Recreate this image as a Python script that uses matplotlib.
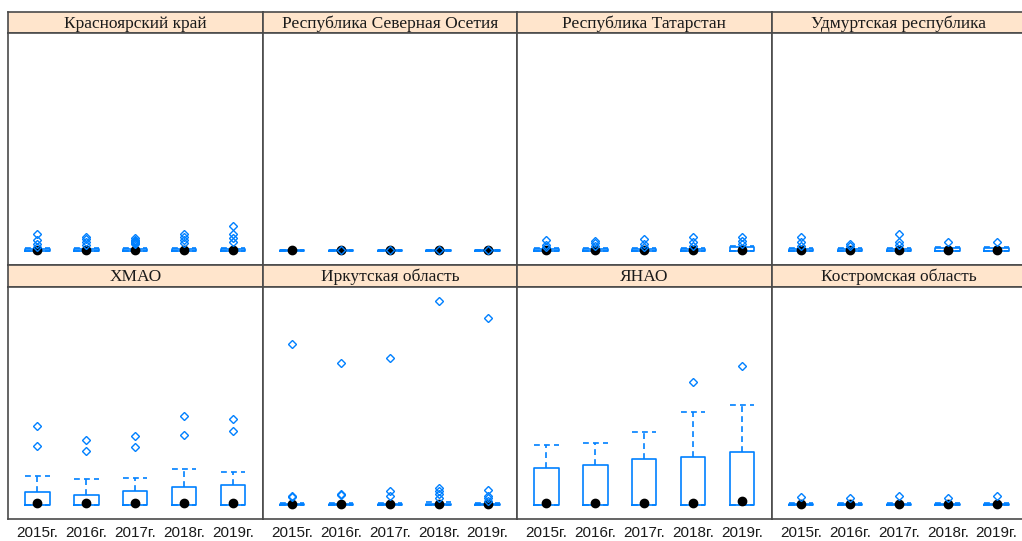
import matplotlib
matplotlib.use("Agg")
import matplotlib.pyplot as plt

# Regions in panel order (row by row) and years on the x axis
regions = [
    "Красноярский край", "Республика Северная Осетия", "Республика Татарстан", "Удмуртская республика",
    "ХМАО", "Иркутская область", "ЯНАО", "Костромская область",
]
years = ["2015г.", "2016г.", "2017г.", "2018г.", "2019г."]

# Box statistics per region (one value per year)
q1 = [[0, 0, 0, 0, 0]] * 8
med = [
    [1, 1, 1, 1, 1],
    [0.3, 0.3, 0.3, 0.3, 0.3],
    [1, 1, 1, 1, 1],
    [1, 1, 1, 1, 1],
    [2, 2, 2, 2, 2],
    [0.5, 0.5, 0.5, 0.5, 0.5],
    [1.5, 1.5, 1.5, 1.5, 3.5],
    [0.5, 0.5, 0.5, 0.5, 0.5],
]
q3 = [
    [1.5, 1.5, 1.5, 1.5, 1.5],
    [0.5, 0.5, 0.5, 0.5, 0.5],
    [1.5, 1.5, 1.5, 1.5, 4],
    [1.5, 1.5, 1.5, 3, 3],
    [13, 10, 14, 18, 20],
    [1, 1, 1, 1, 1],
    [37, 40, 46, 48, 53],
    [1, 1, 1, 1, 1],
]
whishi = [
    [3, 3, 3, 3, 3],
    [0.8, 0.8, 0.8, 0.8, 0.8],
    [2.5, 2.5, 2.5, 2.5, 5],
    [2.5, 2.5, 2.5, 4, 4],
    [29, 26, 27, 36, 33],
    [2, 2, 2, 3, 2],
    [60, 62, 73, 93, 100],
    [2, 2, 2, 2, 2],
]
fliers = [
    [[4, 7, 11, 17], [6, 9, 12, 14], [7, 8, 9, 10, 11, 13], [8, 11, 14, 17], [9, 13, 17, 25]],
    [[], [0.3], [0.3], [0.3], [0.3]],
    [[4, 6, 11], [5, 8, 10], [4, 7, 12], [5, 9, 14], [7, 10, 14]],
    [[5, 9, 14], [5, 7], [6, 9, 17], [9], [9]],
    [[59, 79], [54, 65], [58, 69], [70, 89], [74, 86]],
    [[8, 9, 161], [10, 11, 142], [9, 14, 147], [7, 11, 14, 17, 204], [4, 7, 9, 15, 187]],
    [[], [], [], [123], [139]],
    [[8], [7], [9], [7], [9]],
]

BLUE = "#0080ff"
EDGE = "#4a4a4a"
STRIP = "#ffe5cc"

# common y range for all panels, padded like lattice does
all_vals = [v for r in whishi for v in r] + [v for r in fliers for f in r for v in f] + [0]
lo, hi = min(all_vals), max(all_vals)
pad = 0.07 * (hi - lo)
ylim = (lo - pad, hi + pad)

W, H = 1022, 541
fig = plt.figure(figsize=(W / 100, H / 100), dpi=100)


def frac(left, top, w, h):
    return [left / W, 1 - (top + h) / H, w / W, h / H]


col_x0, col_w = 8, 254.5
rows = [(12, 21, 232), (265, 22, 232)]  # strip top, strip height, body height

for i, name in enumerate(regions):
    r, c = divmod(i, 4)
    top, sh, bh = rows[r]
    left = col_x0 + c * col_w

    sax = fig.add_axes(frac(left, top, col_w, sh))
    sax.set_facecolor(STRIP)
    sax.set_xticks([])
    sax.set_yticks([])
    for s in sax.spines.values():
        s.set_color(EDGE)
        s.set_linewidth(1.2)
    sax.text(0.5, 0.45, name, ha="center", va="center", fontsize=12.5,
             family="Liberation Serif", color="#1a1a1a", transform=sax.transAxes)

    ax = fig.add_axes(frac(left, top + sh, col_w, bh))
    stats = []
    for j in range(len(years)):
        stats.append(dict(med=med[i][j], q1=q1[i][j], q3=q3[i][j],
                          whislo=q1[i][j], whishi=whishi[i][j], fliers=fliers[i][j]))
    pos = list(range(1, len(years) + 1))
    ax.bxp(stats, positions=pos, widths=0.5, capwidths=0.5,
           boxprops=dict(color=BLUE, linewidth=1.2),
           whiskerprops=dict(color=BLUE, linewidth=1.2, linestyle=(0, (3.5, 2.5))),
           capprops=dict(color=BLUE, linewidth=1.2, linestyle=(0, (3.5, 2.5))),
           medianprops=dict(linestyle="none"),
           flierprops=dict(marker="D", markersize=4.2, markerfacecolor="none",
                           markeredgecolor=BLUE, markeredgewidth=1.0, zorder=5))
    ax.plot(pos, med[i], "o", color="black", markersize=6, zorder=4)

    ax.set_xlim(0.4, 5.6)
    ax.set_ylim(*ylim)
    ax.set_yticks([])
    ax.set_xticks(pos)
    if r == 1:
        ax.set_xticklabels(years, family="Liberation Sans", fontsize=11, color="#1a1a1a")
        ax.tick_params(axis="x", length=0, pad=5)
    else:
        ax.set_xticklabels([])
        ax.tick_params(axis="x", length=0)
    for s in ax.spines.values():
        s.set_color(EDGE)
        s.set_linewidth(1.2)

fig.savefig("out.png", dpi=100)
